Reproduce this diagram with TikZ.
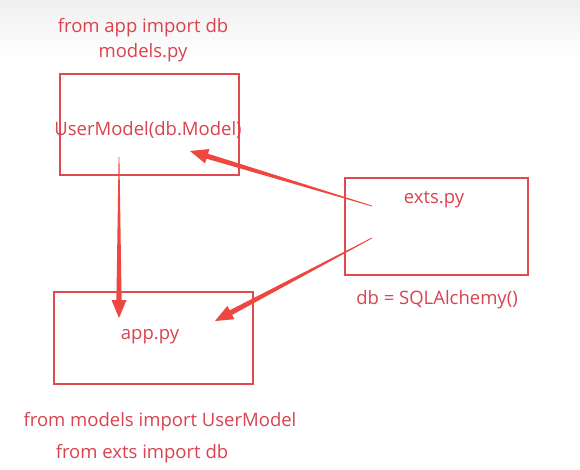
\documentclass[tikz,border=0pt]{standalone}
\usepackage{fontspec}
\setmainfont{Open Sans}
\usetikzlibrary{calc}
\definecolor{boxred}{HTML}{E04A4E}
\definecolor{txtred}{HTML}{D9434F}
\definecolor{arrred}{HTML}{EE473F}
\tikzset{
  filebox/.style={draw=boxred, line width=1.6pt, minimum width=#1},
  lbl/.style={text=txtred, font=\fontsize{18.5}{22}\selectfont, inner sep=0pt},
}
\newcommand\taperarrow[2]{%
  \path coordinate (h) at ($(#2)!18pt!(#1)$);
  \fill[arrred]
    ($(#1)!0.4pt!90:(#2)$) -- ($(h)!2.6pt!-90:(#1)$) -- ($(h)!7.5pt!-90:(#1)$) --
    (#2) -- ($(h)!7.5pt!90:(#1)$) -- ($(h)!2.6pt!90:(#1)$) -- ($(#1)!0.4pt!-90:(#2)$) -- cycle;
}
\begin{document}
\begin{tikzpicture}[x=1pt,y=-1pt]
  \useasboundingbox (0,0) rectangle (580,469);
  \fill[white] (0,0) rectangle (580,469);
  \shade[top color=black!6, bottom color=white] (0,0) rectangle (580,60);

  % boxes
  \node[filebox=179pt, minimum height=101pt] (models) at (149.5,124.5) {};
  \node[filebox=183pt, minimum height=97pt] (exts) at (436.5,226.5) {};
  \node[filebox=199pt, minimum height=92pt] (app) at (153.5,338) {};

  % texts
  \node[lbl] (t1) at (143,28) {from app import db};
  \node[lbl] (t2) at (143,53) {models.py};
  \node[lbl] (um) at (148,130) {UserModel(db.Model)};
  \node[lbl] (ex) at (434,200) {exts.py};
  \node[lbl] (sq) at (437,300) {db = SQLAlchemy()};
  \node[lbl] (ap) at (150,337) {app.py};
  \node[lbl] (t3) at (160,422) {from models import UserModel};
  \node[lbl] (t4) at (142,454) {from exts import db};

  % arrow endpoints
  \coordinate (s1) at (119,157);
  \coordinate (e1) at (119,318);
  \coordinate (s2) at (372,206);
  \coordinate (e2) at (190,151);
  \coordinate (s3) at (372,238);
  \coordinate (e3) at (215,321);

  \taperarrow{s1}{e1}
  \taperarrow{s2}{e2}
  \taperarrow{s3}{e3}
\end{tikzpicture}
\end{document}
